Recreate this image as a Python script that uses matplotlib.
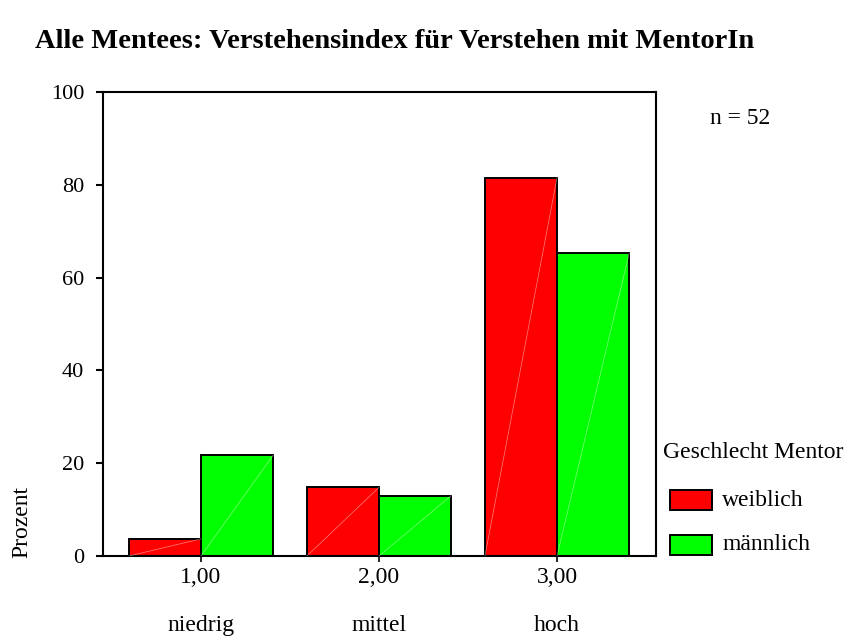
import numpy as np
import matplotlib.pyplot as plt
from matplotlib.patches import Rectangle

plt.rcParams['font.family'] = ['Liberation Serif', 'DejaVu Serif']

categories = ['1,00', '2,00', '3,00']
levels = ['niedrig', 'mittel', 'hoch']
weiblich = [3.7, 14.8, 81.5]
maennlich = [21.7, 13.0, 65.2]
series_names = ['weiblich', 'männlich']
colors = ['#ff0000', '#00ff00']

W, H = 847, 641
fig = plt.figure(figsize=(W / 100, H / 100), dpi=100)
ax = fig.add_axes([0.1213, 0.1326, 0.6532, 0.7239])

x = np.arange(len(categories))
w = 0.405
for i, (vals, c) in enumerate(zip([weiblich, maennlich], colors)):
    pos = x + (i - 0.5) * w
    ax.bar(pos, vals, width=w, color=c, edgecolor='black', linewidth=1.4, zorder=2)
    # faint diagonal shading artifact seen in the original
    for p, v in zip(pos, vals):
        ax.plot([p - w / 2, p + w / 2], [0, v], color='white', lw=0.5, alpha=0.5, zorder=3)

ax.set_xlim(-0.552, 2.556)
ax.set_ylim(0, 100)
ax.set_yticks([0, 20, 40, 60, 80, 100])
ax.set_xticks(x)
ax.set_xticklabels(categories)
for s in ax.spines.values():
    s.set_linewidth(1.5)
ax.tick_params(axis='y', length=5, width=1.5, labelsize=16, pad=8.5)
ax.tick_params(axis='x', length=4, width=1.2, labelsize=17, pad=4)

for xi, lab in zip(x, levels):
    ax.text(xi, -15, lab, ha='center', va='center', fontsize=17, clip_on=False)

fig.text(395 / W, 1 - 41 / H, 'Alle Mentees: Verstehensindex für Verstehen mit MentorIn',
         ha='center', va='center', fontsize=20.5, fontweight='bold')
fig.text(740 / W, 1 - 118 / H, 'n = 52', ha='center', va='center', fontsize=17)
fig.text(22 / W, 1 - 522 / H, 'Prozent', rotation=90, ha='center', va='center', fontsize=17)

# legend drawn by hand to match the SPSS layout
fig.text(663 / W, 1 - 452 / H, 'Geschlecht Mentor', ha='left', va='center', fontsize=17)
for k, (name, c) in enumerate(zip(series_names, colors)):
    yc = 500 + k * 45
    fig.add_artist(Rectangle((670 / W, 1 - (yc + 10) / H), 42 / W, 20 / H,
                             transform=fig.transFigure, facecolor=c,
                             edgecolor='black', linewidth=1.4))
    fig.text(722 / W, 1 - yc / H, name, ha='left', va='center', fontsize=17)

fig.savefig('out.png', dpi=100)
